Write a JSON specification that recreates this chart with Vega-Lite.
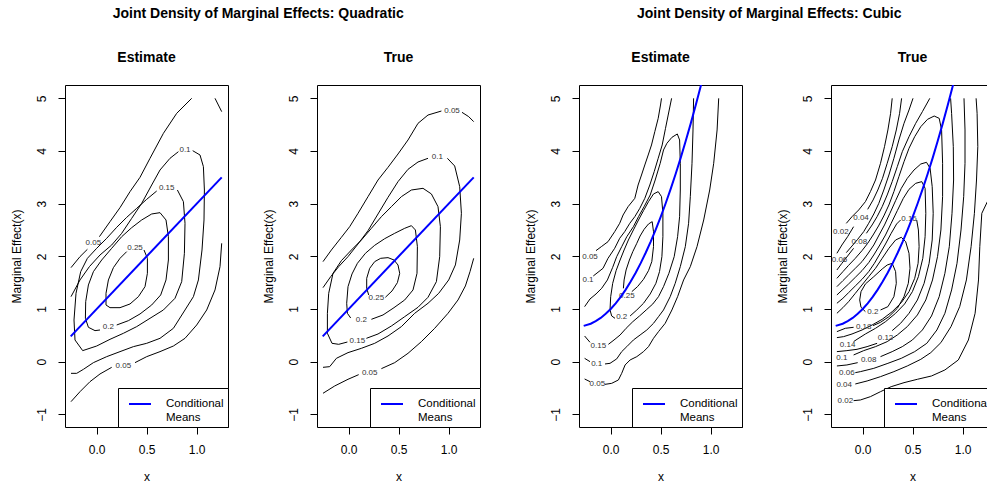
{
"$schema": "https://vega.github.io/schema/vega-lite/v6.json",
"background": "white",
"padding": {"left": 9, "top": 6, "right": 0, "bottom": 0},
"datasets": {
"cl": [
{"p":1,"g":"a1","x":-0.257,"y":1.785},{"p":1,"g":"a1","x":-0.167,"y":1.994},{"p":1,"g":"a1","x":-0.093,"y":2.133},
{"p":1,"g":"a2","x":0.027,"y":2.373},{"p":1,"g":"a2","x":0.133,"y":2.658},{"p":1,"g":"a2","x":0.233,"y":2.924},{"p":1,"g":"a2","x":0.333,"y":3.228},{"p":1,"g":"a2","x":0.433,"y":3.5},{"p":1,"g":"a2","x":0.533,"y":3.861},{"p":1,"g":"a2","x":0.667,"y":4.335},{"p":1,"g":"a2","x":0.8,"y":4.715},{"p":1,"g":"a2","x":0.95,"y":5.0},
{"p":1,"g":"a3","x":1.183,"y":5.0},{"p":1,"g":"a3","x":1.25,"y":4.747},
{"p":1,"g":"b1","x":-0.257,"y":-0.76},{"p":1,"g":"b1","x":-0.167,"y":-0.57},{"p":1,"g":"b1","x":-0.067,"y":-0.38},{"p":1,"g":"b1","x":0.033,"y":-0.234},{"p":1,"g":"b1","x":0.15,"y":-0.108},
{"p":1,"g":"b2","x":0.383,"y":-0.019},{"p":1,"g":"b2","x":0.5,"y":0.095},{"p":1,"g":"b2","x":0.633,"y":0.19},{"p":1,"g":"b2","x":0.767,"y":0.297},{"p":1,"g":"b2","x":0.883,"y":0.443},{"p":1,"g":"b2","x":1.0,"y":0.696},{"p":1,"g":"b2","x":1.1,"y":0.981},{"p":1,"g":"b2","x":1.183,"y":1.361},{"p":1,"g":"b2","x":1.233,"y":1.804},{"p":1,"g":"b2","x":1.25,"y":2.247},
{"p":1,"g":"c1","x":-0.257,"y":1.234},{"p":1,"g":"c1","x":-0.167,"y":1.551},{"p":1,"g":"c1","x":-0.073,"y":1.804},{"p":1,"g":"c1","x":0.033,"y":2.025},{"p":1,"g":"c1","x":0.15,"y":2.215},{"p":1,"g":"c1","x":0.25,"y":2.437},{"p":1,"g":"c1","x":0.35,"y":2.721},{"p":1,"g":"c1","x":0.45,"y":3.006},{"p":1,"g":"c1","x":0.55,"y":3.354},{"p":1,"g":"c1","x":0.633,"y":3.639},{"p":1,"g":"c1","x":0.733,"y":3.861},{"p":1,"g":"c1","x":0.817,"y":3.987},
{"p":1,"g":"c2","x":0.96,"y":4.006},{"p":1,"g":"c2","x":1.033,"y":3.924},{"p":1,"g":"c2","x":1.067,"y":3.703},{"p":1,"g":"c2","x":1.077,"y":3.259},{"p":1,"g":"c2","x":1.073,"y":2.69},{"p":1,"g":"c2","x":1.053,"y":2.12},{"p":1,"g":"c2","x":1.017,"y":1.551},{"p":1,"g":"c2","x":0.967,"y":1.234},{"p":1,"g":"c2","x":0.883,"y":0.981},{"p":1,"g":"c2","x":0.767,"y":0.633},{"p":1,"g":"c2","x":0.633,"y":0.443},{"p":1,"g":"c2","x":0.5,"y":0.348},{"p":1,"g":"c2","x":0.367,"y":0.285},{"p":1,"g":"c2","x":0.233,"y":0.19},{"p":1,"g":"c2","x":0.1,"y":0.095},{"p":1,"g":"c2","x":-0.033,"y":-0.019},{"p":1,"g":"c2","x":-0.133,"y":-0.146},{"p":1,"g":"c2","x":-0.2,"y":-0.222},{"p":1,"g":"c2","x":-0.257,"y":-0.222},
{"p":1,"g":"d","x":0.6,"y":3.24},{"p":1,"g":"d","x":0.5,"y":3.082},{"p":1,"g":"d","x":0.4,"y":2.911},{"p":1,"g":"d","x":0.3,"y":2.74},{"p":1,"g":"d","x":0.2,"y":2.551},{"p":1,"g":"d","x":0.1,"y":2.342},{"p":1,"g":"d","x":0.0,"y":2.152},{"p":1,"g":"d","x":-0.093,"y":1.962},{"p":1,"g":"d","x":-0.16,"y":1.709},{"p":1,"g":"d","x":-0.207,"y":1.297},{"p":1,"g":"d","x":-0.227,"y":0.791},{"p":1,"g":"d","x":-0.217,"y":0.411},{"p":1,"g":"d","x":-0.14,"y":0.209},{"p":1,"g":"d","x":0.0,"y":0.297},{"p":1,"g":"d","x":0.133,"y":0.424},{"p":1,"g":"d","x":0.267,"y":0.538},{"p":1,"g":"d","x":0.4,"y":0.665},{"p":1,"g":"d","x":0.533,"y":0.823},{"p":1,"g":"d","x":0.667,"y":0.981},{"p":1,"g":"d","x":0.783,"y":1.203},{"p":1,"g":"d","x":0.85,"y":1.519},{"p":1,"g":"d","x":0.877,"y":2.057},{"p":1,"g":"d","x":0.883,"y":2.627},{"p":1,"g":"d","x":0.867,"y":3.038},{"p":1,"g":"d","x":0.807,"y":3.259},
{"p":1,"g":"e","x":0.2,"y":0.696},{"p":1,"g":"e","x":0.317,"y":0.778},{"p":1,"g":"e","x":0.433,"y":0.905},{"p":1,"g":"e","x":0.55,"y":1.076},{"p":1,"g":"e","x":0.64,"y":1.266},{"p":1,"g":"e","x":0.693,"y":1.551},{"p":1,"g":"e","x":0.717,"y":1.93},{"p":1,"g":"e","x":0.717,"y":2.373},{"p":1,"g":"e","x":0.693,"y":2.69},{"p":1,"g":"e","x":0.633,"y":2.829},{"p":1,"g":"e","x":0.55,"y":2.804},{"p":1,"g":"e","x":0.45,"y":2.69},{"p":1,"g":"e","x":0.35,"y":2.544},{"p":1,"g":"e","x":0.25,"y":2.373},{"p":1,"g":"e","x":0.15,"y":2.152},{"p":1,"g":"e","x":0.05,"y":1.93},{"p":1,"g":"e","x":-0.033,"y":1.709},{"p":1,"g":"e","x":-0.083,"y":1.456},{"p":1,"g":"e","x":-0.11,"y":1.139},{"p":1,"g":"e","x":-0.113,"y":0.823},{"p":1,"g":"e","x":-0.083,"y":0.652},{"p":1,"g":"e","x":-0.017,"y":0.589},{"p":1,"g":"e","x":0.033,"y":0.601},
{"p":1,"g":"f","x":0.473,"y":2.12},{"p":1,"g":"f","x":0.507,"y":1.962},{"p":1,"g":"f","x":0.507,"y":1.677},{"p":1,"g":"f","x":0.483,"y":1.424},{"p":1,"g":"f","x":0.417,"y":1.234},{"p":1,"g":"f","x":0.333,"y":1.095},{"p":1,"g":"f","x":0.233,"y":1.025},{"p":1,"g":"f","x":0.133,"y":1.025},{"p":1,"g":"f","x":0.093,"y":1.076},{"p":1,"g":"f","x":0.093,"y":1.297},{"p":1,"g":"f","x":0.117,"y":1.551},{"p":1,"g":"f","x":0.167,"y":1.785},{"p":1,"g":"f","x":0.233,"y":1.962},{"p":1,"g":"f","x":0.3,"y":2.089},

{"p":2,"g":"a1","x":-0.257,"y":1.899},{"p":2,"g":"a1","x":-0.173,"y":2.12},{"p":2,"g":"a1","x":-0.073,"y":2.361},{"p":2,"g":"a1","x":0.01,"y":2.563},{"p":2,"g":"a1","x":0.093,"y":2.816},{"p":2,"g":"a1","x":0.193,"y":3.133},{"p":2,"g":"a1","x":0.293,"y":3.449},{"p":2,"g":"a1","x":0.393,"y":3.69},{"p":2,"g":"a1","x":0.493,"y":3.943},{"p":2,"g":"a1","x":0.593,"y":4.209},{"p":2,"g":"a1","x":0.693,"y":4.525},{"p":2,"g":"a1","x":0.793,"y":4.683},{"p":2,"g":"a1","x":0.927,"y":4.759},
{"p":2,"g":"a2","x":1.133,"y":4.734},{"p":2,"g":"a2","x":1.2,"y":4.652},{"p":2,"g":"a2","x":1.25,"y":4.557},
{"p":2,"g":"b1","x":-0.257,"y":-0.601},{"p":2,"g":"b1","x":-0.14,"y":-0.462},{"p":2,"g":"b1","x":-0.007,"y":-0.335},{"p":2,"g":"b1","x":0.1,"y":-0.247},
{"p":2,"g":"b2","x":0.327,"y":-0.133},{"p":2,"g":"b2","x":0.46,"y":-0.019},{"p":2,"g":"b2","x":0.593,"y":0.158},{"p":2,"g":"b2","x":0.727,"y":0.38},{"p":2,"g":"b2","x":0.86,"y":0.633},{"p":2,"g":"b2","x":0.993,"y":0.918},{"p":2,"g":"b2","x":1.093,"y":1.171},{"p":2,"g":"b2","x":1.167,"y":1.437},{"p":2,"g":"b2","x":1.213,"y":1.709},{"p":2,"g":"b2","x":1.25,"y":1.962},
{"p":2,"g":"c1","x":-0.257,"y":1.405},{"p":2,"g":"c1","x":-0.18,"y":1.614},{"p":2,"g":"c1","x":-0.1,"y":1.804},{"p":2,"g":"c1","x":-0.007,"y":1.994},{"p":2,"g":"c1","x":0.093,"y":2.234},{"p":2,"g":"c1","x":0.193,"y":2.487},{"p":2,"g":"c1","x":0.293,"y":2.804},{"p":2,"g":"c1","x":0.393,"y":3.12},{"p":2,"g":"c1","x":0.493,"y":3.418},{"p":2,"g":"c1","x":0.593,"y":3.652},{"p":2,"g":"c1","x":0.693,"y":3.791},{"p":2,"g":"c1","x":0.793,"y":3.861},
{"p":2,"g":"c2","x":0.987,"y":3.861},{"p":2,"g":"c2","x":1.06,"y":3.715},{"p":2,"g":"c2","x":1.11,"y":3.323},{"p":2,"g":"c2","x":1.127,"y":2.817},{"p":2,"g":"c2","x":1.11,"y":2.31},{"p":2,"g":"c2","x":1.067,"y":1.836},{"p":2,"g":"c2","x":1.0,"y":1.551},{"p":2,"g":"c2","x":0.9,"y":1.297},{"p":2,"g":"c2","x":0.793,"y":1.108},{"p":2,"g":"c2","x":0.66,"y":0.918},{"p":2,"g":"c2","x":0.527,"y":0.665},{"p":2,"g":"c2","x":0.393,"y":0.487},{"p":2,"g":"c2","x":0.26,"y":0.348},{"p":2,"g":"c2","x":0.127,"y":0.253},{"p":2,"g":"c2","x":-0.007,"y":0.171},{"p":2,"g":"c2","x":-0.123,"y":0.063},{"p":2,"g":"c2","x":-0.19,"y":-0.095},{"p":2,"g":"c2","x":-0.257,"y":-0.108},
{"p":2,"g":"d","x":0.177,"y":0.443},{"p":2,"g":"d","x":0.293,"y":0.525},{"p":2,"g":"d","x":0.427,"y":0.677},{"p":2,"g":"d","x":0.56,"y":0.854},{"p":2,"g":"d","x":0.693,"y":1.032},{"p":2,"g":"d","x":0.793,"y":1.222},{"p":2,"g":"d","x":0.877,"y":1.519},{"p":2,"g":"d","x":0.91,"y":1.994},{"p":2,"g":"d","x":0.917,"y":2.563},{"p":2,"g":"d","x":0.893,"y":2.943},{"p":2,"g":"d","x":0.827,"y":3.184},{"p":2,"g":"d","x":0.743,"y":3.291},{"p":2,"g":"d","x":0.627,"y":3.259},{"p":2,"g":"d","x":0.527,"y":3.133},{"p":2,"g":"d","x":0.427,"y":2.943},{"p":2,"g":"d","x":0.327,"y":2.753},{"p":2,"g":"d","x":0.227,"y":2.532},{"p":2,"g":"d","x":0.127,"y":2.31},{"p":2,"g":"d","x":0.027,"y":2.12},{"p":2,"g":"d","x":-0.073,"y":1.918},{"p":2,"g":"d","x":-0.157,"y":1.677},{"p":2,"g":"d","x":-0.2,"y":1.297},{"p":2,"g":"d","x":-0.213,"y":0.918},{"p":2,"g":"d","x":-0.213,"y":0.538},{"p":2,"g":"d","x":-0.167,"y":0.348},{"p":2,"g":"d","x":-0.1,"y":0.329},{"p":2,"g":"d","x":-0.013,"y":0.373},
{"p":2,"g":"e","x":0.227,"y":0.804},{"p":2,"g":"e","x":0.343,"y":0.886},{"p":2,"g":"e","x":0.453,"y":1.025},{"p":2,"g":"e","x":0.56,"y":1.171},{"p":2,"g":"e","x":0.643,"y":1.361},{"p":2,"g":"e","x":0.683,"y":1.677},{"p":2,"g":"e","x":0.687,"y":2.184},{"p":2,"g":"e","x":0.667,"y":2.5},{"p":2,"g":"e","x":0.627,"y":2.582},{"p":2,"g":"e","x":0.56,"y":2.532},{"p":2,"g":"e","x":0.46,"y":2.437},{"p":2,"g":"e","x":0.36,"y":2.335},{"p":2,"g":"e","x":0.26,"y":2.209},{"p":2,"g":"e","x":0.167,"y":2.057},{"p":2,"g":"e","x":0.087,"y":1.867},{"p":2,"g":"e","x":0.033,"y":1.665},{"p":2,"g":"e","x":-0.007,"y":1.424},{"p":2,"g":"e","x":-0.02,"y":1.108},{"p":2,"g":"e","x":-0.013,"y":0.918},{"p":2,"g":"e","x":0.02,"y":0.829},
{"p":2,"g":"f","x":0.367,"y":1.222},{"p":2,"g":"f","x":0.433,"y":1.342},{"p":2,"g":"f","x":0.487,"y":1.5},{"p":2,"g":"f","x":0.51,"y":1.677},{"p":2,"g":"f","x":0.493,"y":1.835},{"p":2,"g":"f","x":0.453,"y":1.93},{"p":2,"g":"f","x":0.393,"y":1.975},{"p":2,"g":"f","x":0.32,"y":1.962},{"p":2,"g":"f","x":0.26,"y":1.899},{"p":2,"g":"f","x":0.21,"y":1.772},{"p":2,"g":"f","x":0.18,"y":1.582},{"p":2,"g":"f","x":0.18,"y":1.392},{"p":2,"g":"f","x":0.2,"y":1.266},

{"p":3,"g":"a","x":-0.147,"y":2.108},{"p":3,"g":"a","x":-0.094,"y":2.183},{"p":3,"g":"a","x":-0.027,"y":2.278},{"p":3,"g":"a","x":0.04,"y":2.468},{"p":3,"g":"a","x":0.09,"y":2.627},{"p":3,"g":"a","x":0.124,"y":2.785},{"p":3,"g":"a","x":0.174,"y":2.943},{"p":3,"g":"a","x":0.241,"y":3.101},{"p":3,"g":"a","x":0.274,"y":3.354},{"p":3,"g":"a","x":0.308,"y":3.544},{"p":3,"g":"a","x":0.341,"y":3.734},{"p":3,"g":"a","x":0.375,"y":3.924},{"p":3,"g":"a","x":0.408,"y":4.114},{"p":3,"g":"a","x":0.441,"y":4.367},{"p":3,"g":"a","x":0.475,"y":4.62},{"p":3,"g":"a","x":0.498,"y":4.873},{"p":3,"g":"a","x":0.508,"y":5.0},
{"p":3,"g":"b1","x":1.08,"y":5.0},{"p":3,"g":"b1","x":1.064,"y":4.399},{"p":3,"g":"b1","x":1.03,"y":3.766},{"p":3,"g":"b1","x":0.99,"y":3.259},{"p":3,"g":"b1","x":0.93,"y":2.69},{"p":3,"g":"b1","x":0.863,"y":2.184},{"p":3,"g":"b1","x":0.796,"y":1.804},{"p":3,"g":"b1","x":0.729,"y":1.551},{"p":3,"g":"b1","x":0.669,"y":1.234},{"p":3,"g":"b1","x":0.612,"y":0.981},{"p":3,"g":"b1","x":0.545,"y":0.728},{"p":3,"g":"b1","x":0.478,"y":0.57},{"p":3,"g":"b1","x":0.428,"y":0.443},{"p":3,"g":"b1","x":0.378,"y":0.285},{"p":3,"g":"b1","x":0.328,"y":0.19},{"p":3,"g":"b1","x":0.261,"y":0.095},{"p":3,"g":"b1","x":0.194,"y":0.032},{"p":3,"g":"b1","x":0.144,"y":-0.063},{"p":3,"g":"b1","x":0.11,"y":-0.222},{"p":3,"g":"b1","x":0.077,"y":-0.348},{"p":3,"g":"b1","x":0.01,"y":-0.412},{"p":3,"g":"b1","x":-0.057,"y":-0.431},
{"p":3,"g":"b2","x":-0.207,"y":-0.38},{"p":3,"g":"b2","x":-0.261,"y":-0.329},
{"p":3,"g":"c","x":-0.174,"y":1.627},{"p":3,"g":"c","x":-0.077,"y":1.772},{"p":3,"g":"c","x":-0.027,"y":1.962},{"p":3,"g":"c","x":0.04,"y":2.152},{"p":3,"g":"c","x":0.09,"y":2.342},{"p":3,"g":"c","x":0.14,"y":2.468},{"p":3,"g":"c","x":0.191,"y":2.627},{"p":3,"g":"c","x":0.241,"y":2.753},{"p":3,"g":"c","x":0.291,"y":2.911},{"p":3,"g":"c","x":0.341,"y":3.101},{"p":3,"g":"c","x":0.391,"y":3.354},{"p":3,"g":"c","x":0.435,"y":3.608},{"p":3,"g":"c","x":0.475,"y":3.861},{"p":3,"g":"c","x":0.515,"y":4.114},{"p":3,"g":"c","x":0.548,"y":4.43},{"p":3,"g":"c","x":0.575,"y":4.683},{"p":3,"g":"c","x":0.609,"y":5.0},
{"p":3,"g":"d1","x":0.829,"y":5.0},{"p":3,"g":"d1","x":0.823,"y":4.399},{"p":3,"g":"d1","x":0.813,"y":3.766},{"p":3,"g":"d1","x":0.796,"y":3.133},{"p":3,"g":"d1","x":0.779,"y":2.627},{"p":3,"g":"d1","x":0.746,"y":2.184},{"p":3,"g":"d1","x":0.696,"y":1.804},{"p":3,"g":"d1","x":0.645,"y":1.487},{"p":3,"g":"d1","x":0.595,"y":1.234},{"p":3,"g":"d1","x":0.528,"y":0.981},{"p":3,"g":"d1","x":0.478,"y":0.854},{"p":3,"g":"d1","x":0.428,"y":0.728},{"p":3,"g":"d1","x":0.361,"y":0.601},{"p":3,"g":"d1","x":0.294,"y":0.506},{"p":3,"g":"d1","x":0.227,"y":0.411},{"p":3,"g":"d1","x":0.161,"y":0.285},{"p":3,"g":"d1","x":0.11,"y":0.19},{"p":3,"g":"d1","x":0.06,"y":0.052},{"p":3,"g":"d1","x":-0.007,"y":-0.032},{"p":3,"g":"d1","x":-0.057,"y":-0.044},
{"p":3,"g":"d2","x":-0.207,"y":0.0},{"p":3,"g":"d2","x":-0.261,"y":0.063},
{"p":3,"g":"e1","x":-0.261,"y":1.044},{"p":3,"g":"e1","x":-0.207,"y":1.19},{"p":3,"g":"e1","x":-0.147,"y":1.285},{"p":3,"g":"e1","x":-0.09,"y":1.393},{"p":3,"g":"e1","x":-0.033,"y":1.551},{"p":3,"g":"e1","x":0.02,"y":1.791},{"p":3,"g":"e1","x":0.06,"y":1.994},{"p":3,"g":"e1","x":0.11,"y":2.183},{"p":3,"g":"e1","x":0.161,"y":2.373},{"p":3,"g":"e1","x":0.227,"y":2.563},{"p":3,"g":"e1","x":0.278,"y":2.753},{"p":3,"g":"e1","x":0.334,"y":2.943},{"p":3,"g":"e1","x":0.395,"y":3.164},{"p":3,"g":"e1","x":0.445,"y":3.449},{"p":3,"g":"e1","x":0.495,"y":3.766},{"p":3,"g":"e1","x":0.528,"y":4.019},{"p":3,"g":"e1","x":0.562,"y":4.146},{"p":3,"g":"e1","x":0.612,"y":4.259},{"p":3,"g":"e1","x":0.666,"y":4.323},{"p":3,"g":"e1","x":0.689,"y":4.209},{"p":3,"g":"e1","x":0.696,"y":3.766},{"p":3,"g":"e1","x":0.696,"y":3.259},{"p":3,"g":"e1","x":0.689,"y":2.753},{"p":3,"g":"e1","x":0.669,"y":2.373},{"p":3,"g":"e1","x":0.635,"y":1.994},{"p":3,"g":"e1","x":0.582,"y":1.677},{"p":3,"g":"e1","x":0.528,"y":1.424},{"p":3,"g":"e1","x":0.478,"y":1.234},{"p":3,"g":"e1","x":0.421,"y":1.095},{"p":3,"g":"e1","x":0.355,"y":0.981},{"p":3,"g":"e1","x":0.288,"y":0.867},{"p":3,"g":"e1","x":0.221,"y":0.759},{"p":3,"g":"e1","x":0.154,"y":0.633},{"p":3,"g":"e1","x":0.094,"y":0.506},{"p":3,"g":"e1","x":0.033,"y":0.411},{"p":3,"g":"e1","x":-0.023,"y":0.329},
{"p":3,"g":"e2","x":-0.207,"y":0.367},{"p":3,"g":"e2","x":-0.261,"y":0.487},
{"p":3,"g":"f","x":0.194,"y":0.867},{"p":3,"g":"f","x":0.261,"y":0.981},{"p":3,"g":"f","x":0.328,"y":1.108},{"p":3,"g":"f","x":0.395,"y":1.285},{"p":3,"g":"f","x":0.452,"y":1.487},{"p":3,"g":"f","x":0.488,"y":1.709},{"p":3,"g":"f","x":0.512,"y":1.994},{"p":3,"g":"f","x":0.522,"y":2.373},{"p":3,"g":"f","x":0.522,"y":2.816},{"p":3,"g":"f","x":0.508,"y":3.133},{"p":3,"g":"f","x":0.475,"y":3.228},{"p":3,"g":"f","x":0.428,"y":3.184},{"p":3,"g":"f","x":0.378,"y":3.038},{"p":3,"g":"f","x":0.328,"y":2.867},{"p":3,"g":"f","x":0.278,"y":2.69},{"p":3,"g":"f","x":0.227,"y":2.5},{"p":3,"g":"f","x":0.177,"y":2.31},{"p":3,"g":"f","x":0.134,"y":2.12},{"p":3,"g":"f","x":0.094,"y":1.93},{"p":3,"g":"f","x":0.054,"y":1.728},{"p":3,"g":"f","x":0.02,"y":1.487},{"p":3,"g":"f","x":0.0,"y":1.234},{"p":3,"g":"f","x":-0.007,"y":0.981},{"p":3,"g":"f","x":0.01,"y":0.867},{"p":3,"g":"f","x":0.043,"y":0.823},
{"p":3,"g":"h","x":0.211,"y":1.329},{"p":3,"g":"h","x":0.268,"y":1.424},{"p":3,"g":"h","x":0.328,"y":1.563},{"p":3,"g":"h","x":0.378,"y":1.728},{"p":3,"g":"h","x":0.411,"y":1.899},{"p":3,"g":"h","x":0.428,"y":2.184},{"p":3,"g":"h","x":0.428,"y":2.468},{"p":3,"g":"h","x":0.415,"y":2.658},{"p":3,"g":"h","x":0.378,"y":2.614},{"p":3,"g":"h","x":0.334,"y":2.513},{"p":3,"g":"h","x":0.294,"y":2.386},{"p":3,"g":"h","x":0.261,"y":2.247},{"p":3,"g":"h","x":0.221,"y":2.089},{"p":3,"g":"h","x":0.187,"y":1.93},{"p":3,"g":"h","x":0.154,"y":1.741},{"p":3,"g":"h","x":0.134,"y":1.551},{"p":3,"g":"h","x":0.127,"y":1.392},

{"p":4,"g":"a","x":-0.164,"y":2.626},{"p":4,"g":"a","x":-0.107,"y":2.753},{"p":4,"g":"a","x":-0.04,"y":2.88},{"p":4,"g":"a","x":0.027,"y":3.038},{"p":4,"g":"a","x":0.077,"y":3.228},{"p":4,"g":"a","x":0.128,"y":3.449},{"p":4,"g":"a","x":0.178,"y":3.766},{"p":4,"g":"a","x":0.218,"y":4.082},{"p":4,"g":"a","x":0.252,"y":4.399},{"p":4,"g":"a","x":0.279,"y":4.715},{"p":4,"g":"a","x":0.295,"y":5.0},
{"p":4,"g":"b","x":1.25,"y":3.05},{"p":4,"g":"b","x":1.191,"y":2.816},{"p":4,"g":"b","x":1.171,"y":2.184},{"p":4,"g":"b","x":1.158,"y":1.551},{"p":4,"g":"b","x":1.124,"y":0.918},{"p":4,"g":"b","x":1.057,"y":0.411},{"p":4,"g":"b","x":0.956,"y":0.032},{"p":4,"g":"b","x":0.822,"y":-0.158},{"p":4,"g":"b","x":0.688,"y":-0.272},{"p":4,"g":"b","x":0.547,"y":-0.335},{"p":4,"g":"b","x":0.413,"y":-0.399},{"p":4,"g":"b","x":0.285,"y":-0.475},{"p":4,"g":"b","x":0.178,"y":-0.57},{"p":4,"g":"b","x":0.077,"y":-0.665},{"p":4,"g":"b","x":-0.023,"y":-0.728},{"p":4,"g":"b","x":-0.091,"y":-0.741},
{"p":4,"g":"c1","x":-0.258,"y":2.057},{"p":4,"g":"c1","x":-0.208,"y":2.215},{"p":4,"g":"c1","x":-0.151,"y":2.373},{"p":4,"g":"c1","x":-0.091,"y":2.563},
{"p":4,"g":"c2","x":0.05,"y":2.892},{"p":4,"g":"c2","x":0.104,"y":3.07},{"p":4,"g":"c2","x":0.151,"y":3.259},{"p":4,"g":"c2","x":0.198,"y":3.481},{"p":4,"g":"c2","x":0.245,"y":3.766},{"p":4,"g":"c2","x":0.295,"y":4.082},{"p":4,"g":"c2","x":0.336,"y":4.399},{"p":4,"g":"c2","x":0.369,"y":4.715},{"p":4,"g":"c2","x":0.389,"y":5.0},
{"p":4,"g":"d","x":1.134,"y":5.0},{"p":4,"g":"d","x":1.144,"y":4.715},{"p":4,"g":"d","x":1.151,"y":4.082},{"p":4,"g":"d","x":1.138,"y":3.449},{"p":4,"g":"d","x":1.117,"y":2.816},{"p":4,"g":"d","x":1.084,"y":2.184},{"p":4,"g":"d","x":1.037,"y":1.551},{"p":4,"g":"d","x":0.97,"y":1.044},{"p":4,"g":"d","x":0.883,"y":0.665},{"p":4,"g":"d","x":0.782,"y":0.361},{"p":4,"g":"d","x":0.681,"y":0.171},{"p":4,"g":"d","x":0.581,"y":0.044},{"p":4,"g":"d","x":0.446,"y":-0.082},{"p":4,"g":"d","x":0.312,"y":-0.19},{"p":4,"g":"d","x":0.178,"y":-0.285},{"p":4,"g":"d","x":0.044,"y":-0.367},{"p":4,"g":"d","x":-0.074,"y":-0.424},
{"p":4,"g":"e","x":-0.164,"y":2.07},{"p":4,"g":"e","x":-0.107,"y":2.196},{"p":4,"g":"e","x":-0.05,"y":2.323},{"p":4,"g":"e","x":0.01,"y":2.468},{"p":4,"g":"e","x":0.06,"y":2.627},{"p":4,"g":"e","x":0.111,"y":2.804},{"p":4,"g":"e","x":0.161,"y":3.006},{"p":4,"g":"e","x":0.211,"y":3.259},{"p":4,"g":"e","x":0.262,"y":3.544},{"p":4,"g":"e","x":0.312,"y":3.861},{"p":4,"g":"e","x":0.362,"y":4.209},{"p":4,"g":"e","x":0.413,"y":4.525},{"p":4,"g":"e","x":0.463,"y":4.778},{"p":4,"g":"e","x":0.503,"y":5.0},
{"p":4,"g":"f","x":1.013,"y":5.0},{"p":4,"g":"f","x":1.023,"y":4.399},{"p":4,"g":"f","x":1.023,"y":3.766},{"p":4,"g":"f","x":1.01,"y":3.133},{"p":4,"g":"f","x":0.983,"y":2.5},{"p":4,"g":"f","x":0.943,"y":1.867},{"p":4,"g":"f","x":0.889,"y":1.361},{"p":4,"g":"f","x":0.822,"y":0.918},{"p":4,"g":"f","x":0.742,"y":0.601},{"p":4,"g":"f","x":0.641,"y":0.348},{"p":4,"g":"f","x":0.52,"y":0.19},{"p":4,"g":"f","x":0.386,"y":0.063},{"p":4,"g":"f","x":0.252,"y":-0.032},{"p":4,"g":"f","x":0.111,"y":-0.127},{"p":4,"g":"f","x":-0.023,"y":-0.19},{"p":4,"g":"f","x":-0.074,"y":-0.209},
{"p":4,"g":"g1","x":-0.258,"y":1.74},{"p":4,"g":"g1","x":-0.208,"y":1.867},{"p":4,"g":"g1","x":-0.151,"y":2.006},{"p":4,"g":"g1","x":-0.091,"y":2.152},
{"p":4,"g":"g2","x":0.037,"y":2.437},{"p":4,"g":"g2","x":0.094,"y":2.595},{"p":4,"g":"g2","x":0.144,"y":2.753},{"p":4,"g":"g2","x":0.195,"y":2.943},{"p":4,"g":"g2","x":0.245,"y":3.165},{"p":4,"g":"g2","x":0.295,"y":3.418},{"p":4,"g":"g2","x":0.346,"y":3.703},{"p":4,"g":"g2","x":0.396,"y":3.987},{"p":4,"g":"g2","x":0.463,"y":4.272},{"p":4,"g":"g2","x":0.53,"y":4.525},{"p":4,"g":"g2","x":0.597,"y":4.747},{"p":4,"g":"g2","x":0.671,"y":5.0},
{"p":4,"g":"h1","x":0.879,"y":5.0},{"p":4,"g":"h1","x":0.889,"y":4.715},{"p":4,"g":"h1","x":0.906,"y":4.082},{"p":4,"g":"h1","x":0.909,"y":3.449},{"p":4,"g":"h1","x":0.893,"y":2.816},{"p":4,"g":"h1","x":0.866,"y":2.184},{"p":4,"g":"h1","x":0.822,"y":1.677},{"p":4,"g":"h1","x":0.765,"y":1.234},{"p":4,"g":"h1","x":0.688,"y":0.867},{"p":4,"g":"h1","x":0.597,"y":0.601},{"p":4,"g":"h1","x":0.497,"y":0.411},{"p":4,"g":"h1","x":0.396,"y":0.285},{"p":4,"g":"h1","x":0.295,"y":0.19},{"p":4,"g":"h1","x":0.178,"y":0.095},
{"p":4,"g":"h2","x":-0.05,"y":-0.019},{"p":4,"g":"h2","x":-0.158,"y":-0.063},{"p":4,"g":"h2","x":-0.258,"y":-0.082},
{"p":4,"g":"i","x":-0.258,"y":1.582},{"p":4,"g":"i","x":-0.198,"y":1.709},{"p":4,"g":"i","x":-0.141,"y":1.829},{"p":4,"g":"i","x":-0.074,"y":1.962},{"p":4,"g":"i","x":-0.007,"y":2.108},{"p":4,"g":"i","x":0.05,"y":2.247},{"p":4,"g":"i","x":0.104,"y":2.405},{"p":4,"g":"i","x":0.158,"y":2.576},{"p":4,"g":"i","x":0.211,"y":2.766},{"p":4,"g":"i","x":0.262,"y":2.975},{"p":4,"g":"i","x":0.312,"y":3.228},{"p":4,"g":"i","x":0.362,"y":3.513},{"p":4,"g":"i","x":0.413,"y":3.797},{"p":4,"g":"i","x":0.463,"y":4.051},{"p":4,"g":"i","x":0.52,"y":4.272},{"p":4,"g":"i","x":0.581,"y":4.462},{"p":4,"g":"i","x":0.648,"y":4.601},{"p":4,"g":"i","x":0.715,"y":4.664},{"p":4,"g":"i","x":0.765,"y":4.62},{"p":4,"g":"i","x":0.789,"y":4.399},{"p":4,"g":"i","x":0.799,"y":3.766},{"p":4,"g":"i","x":0.799,"y":3.133},{"p":4,"g":"i","x":0.782,"y":2.5},{"p":4,"g":"i","x":0.748,"y":1.994},{"p":4,"g":"i","x":0.698,"y":1.551},{"p":4,"g":"i","x":0.631,"y":1.171},{"p":4,"g":"i","x":0.547,"y":0.886},{"p":4,"g":"i","x":0.446,"y":0.665},{"p":4,"g":"i","x":0.346,"y":0.506},{"p":4,"g":"i","x":0.245,"y":0.38},{"p":4,"g":"i","x":0.128,"y":0.285},{"p":4,"g":"i","x":0.01,"y":0.209},{"p":4,"g":"i","x":-0.091,"y":0.127},
{"p":4,"g":"j1","x":-0.258,"y":1.424},{"p":4,"g":"j1","x":-0.198,"y":1.538},{"p":4,"g":"j1","x":-0.141,"y":1.646},{"p":4,"g":"j1","x":-0.074,"y":1.772},{"p":4,"g":"j1","x":-0.007,"y":1.899},{"p":4,"g":"j1","x":0.05,"y":2.044},{"p":4,"g":"j1","x":0.111,"y":2.215},{"p":4,"g":"j1","x":0.164,"y":2.405},{"p":4,"g":"j1","x":0.218,"y":2.595},{"p":4,"g":"j1","x":0.272,"y":2.816},{"p":4,"g":"j1","x":0.329,"y":3.057},{"p":4,"g":"j1","x":0.386,"y":3.291},{"p":4,"g":"j1","x":0.446,"y":3.481},{"p":4,"g":"j1","x":0.513,"y":3.639},{"p":4,"g":"j1","x":0.581,"y":3.753},{"p":4,"g":"j1","x":0.638,"y":3.785},{"p":4,"g":"j1","x":0.674,"y":3.671},{"p":4,"g":"j1","x":0.695,"y":3.323},{"p":4,"g":"j1","x":0.705,"y":2.816},{"p":4,"g":"j1","x":0.695,"y":2.31},{"p":4,"g":"j1","x":0.664,"y":1.867},{"p":4,"g":"j1","x":0.614,"y":1.487},{"p":4,"g":"j1","x":0.547,"y":1.171},{"p":4,"g":"j1","x":0.463,"y":0.918},{"p":4,"g":"j1","x":0.379,"y":0.728},{"p":4,"g":"j1","x":0.295,"y":0.589},
{"p":4,"g":"j2","x":0.144,"y":0.348},{"p":4,"g":"j2","x":0.044,"y":0.285},{"p":4,"g":"j2","x":-0.057,"y":0.234},{"p":4,"g":"j2","x":-0.158,"y":0.209},{"p":4,"g":"j2","x":-0.258,"y":0.19},
{"p":4,"g":"k","x":-0.258,"y":1.266},{"p":4,"g":"k","x":-0.198,"y":1.373},{"p":4,"g":"k","x":-0.141,"y":1.475},{"p":4,"g":"k","x":-0.074,"y":1.601},{"p":4,"g":"k","x":-0.007,"y":1.728},{"p":4,"g":"k","x":0.06,"y":1.88},{"p":4,"g":"k","x":0.117,"y":2.044},{"p":4,"g":"k","x":0.171,"y":2.215},{"p":4,"g":"k","x":0.228,"y":2.405},{"p":4,"g":"k","x":0.285,"y":2.627},{"p":4,"g":"k","x":0.346,"y":2.867},{"p":4,"g":"k","x":0.406,"y":3.101},{"p":4,"g":"k","x":0.463,"y":3.272},{"p":4,"g":"k","x":0.53,"y":3.386},{"p":4,"g":"k","x":0.591,"y":3.418},{"p":4,"g":"k","x":0.624,"y":3.291},{"p":4,"g":"k","x":0.631,"y":2.816},{"p":4,"g":"k","x":0.624,"y":2.373},{"p":4,"g":"k","x":0.601,"y":1.962},{"p":4,"g":"k","x":0.557,"y":1.614},{"p":4,"g":"k","x":0.497,"y":1.329},{"p":4,"g":"k","x":0.419,"y":1.095},{"p":4,"g":"k","x":0.329,"y":0.918},{"p":4,"g":"k","x":0.228,"y":0.759},{"p":4,"g":"k","x":0.128,"y":0.633},{"p":4,"g":"k","x":0.027,"y":0.525},{"p":4,"g":"k","x":-0.057,"y":0.424},{"p":4,"g":"k","x":-0.091,"y":0.38},
{"p":4,"g":"l1","x":-0.258,"y":1.108},{"p":4,"g":"l1","x":-0.198,"y":1.203},{"p":4,"g":"l1","x":-0.141,"y":1.31},{"p":4,"g":"l1","x":-0.074,"y":1.437},{"p":4,"g":"l1","x":-0.007,"y":1.563},{"p":4,"g":"l1","x":0.06,"y":1.709},{"p":4,"g":"l1","x":0.117,"y":1.867},{"p":4,"g":"l1","x":0.171,"y":2.044},{"p":4,"g":"l1","x":0.228,"y":2.234},{"p":4,"g":"l1","x":0.285,"y":2.437},{"p":4,"g":"l1","x":0.339,"y":2.614},{"p":4,"g":"l1","x":0.379,"y":2.69},
{"p":4,"g":"l2","x":0.54,"y":2.69},{"p":4,"g":"l2","x":0.557,"y":2.5},{"p":4,"g":"l2","x":0.564,"y":2.184},{"p":4,"g":"l2","x":0.554,"y":1.867},{"p":4,"g":"l2","x":0.52,"y":1.582},{"p":4,"g":"l2","x":0.463,"y":1.329},{"p":4,"g":"l2","x":0.386,"y":1.12},{"p":4,"g":"l2","x":0.295,"y":0.949},{"p":4,"g":"l2","x":0.195,"y":0.804},{"p":4,"g":"l2","x":0.094,"y":0.696},{"p":4,"g":"l2","x":-0.007,"y":0.601},{"p":4,"g":"l2","x":-0.107,"y":0.525},{"p":4,"g":"l2","x":-0.191,"y":0.475},{"p":4,"g":"l2","x":-0.258,"y":0.456},
{"p":4,"g":"m1","x":-0.258,"y":0.918},{"p":4,"g":"m1","x":-0.198,"y":1.025},{"p":4,"g":"m1","x":-0.141,"y":1.139},{"p":4,"g":"m1","x":-0.074,"y":1.297},{"p":4,"g":"m1","x":-0.007,"y":1.456},{"p":4,"g":"m1","x":0.06,"y":1.614},{"p":4,"g":"m1","x":0.128,"y":1.772},{"p":4,"g":"m1","x":0.195,"y":1.962},{"p":4,"g":"m1","x":0.262,"y":2.152},{"p":4,"g":"m1","x":0.329,"y":2.31},{"p":4,"g":"m1","x":0.386,"y":2.361},{"p":4,"g":"m1","x":0.43,"y":2.277},{"p":4,"g":"m1","x":0.463,"y":2.057},{"p":4,"g":"m1","x":0.473,"y":1.772},{"p":4,"g":"m1","x":0.456,"y":1.487},{"p":4,"g":"m1","x":0.413,"y":1.234},{"p":4,"g":"m1","x":0.346,"y":1.012},{"p":4,"g":"m1","x":0.262,"y":0.854},{"p":4,"g":"m1","x":0.178,"y":0.747},{"p":4,"g":"m1","x":0.104,"y":0.684},
{"p":4,"g":"m2","x":-0.091,"y":0.652},{"p":4,"g":"m2","x":-0.174,"y":0.633},{"p":4,"g":"m2","x":-0.258,"y":0.57},
{"p":4,"g":"n","x":0.178,"y":0.981},{"p":4,"g":"n","x":0.252,"y":1.044},{"p":4,"g":"n","x":0.312,"y":1.234},{"p":4,"g":"n","x":0.336,"y":1.487},{"p":4,"g":"n","x":0.329,"y":1.709},{"p":4,"g":"n","x":0.295,"y":1.867},{"p":4,"g":"n","x":0.245,"y":1.835},{"p":4,"g":"n","x":0.195,"y":1.76},{"p":4,"g":"n","x":0.111,"y":1.614},{"p":4,"g":"n","x":0.027,"y":1.475},{"p":4,"g":"n","x":-0.017,"y":1.329},{"p":4,"g":"n","x":-0.03,"y":1.171},{"p":4,"g":"n","x":-0.017,"y":1.032},{"p":4,"g":"n","x":0.027,"y":0.949}
],
"lb": [
{"p":1,"x":-0.033,"y":2.247,"t":"0.05"},{"p":1,"x":0.267,"y":-0.082,"t":"0.05"},{"p":1,"x":0.883,"y":4.019,"t":"0.1"},{"p":1,"x":0.7,"y":3.291,"t":"0.15"},{"p":1,"x":0.117,"y":0.652,"t":"0.2"},{"p":1,"x":0.383,"y":2.152,"t":"0.25"},
{"p":2,"x":1.033,"y":4.766,"t":"0.05"},{"p":2,"x":0.21,"y":-0.222,"t":"0.05"},{"p":2,"x":0.887,"y":3.88,"t":"0.1"},{"p":2,"x":0.087,"y":0.399,"t":"0.15"},{"p":2,"x":0.127,"y":0.791,"t":"0.2"},{"p":2,"x":0.277,"y":1.203,"t":"0.25"},
{"p":3,"x":-0.207,"y":1.981,"t":"0.05"},{"p":3,"x":-0.134,"y":-0.424,"t":"0.05"},{"p":3,"x":-0.227,"y":1.551,"t":"0.1"},{"p":3,"x":-0.14,"y":-0.044,"t":"0.1"},{"p":3,"x":-0.124,"y":0.304,"t":"0.15"},{"p":3,"x":0.11,"y":0.842,"t":"0.2"},{"p":3,"x":0.161,"y":1.247,"t":"0.25"},
{"p":4,"x":-0.218,"y":2.468,"t":"0.02"},{"p":4,"x":-0.174,"y":-0.741,"t":"0.02"},{"p":4,"x":-0.017,"y":2.721,"t":"0.04"},{"p":4,"x":-0.185,"y":-0.443,"t":"0.04"},{"p":4,"x":-0.232,"y":1.93,"t":"0.06"},{"p":4,"x":-0.158,"y":-0.222,"t":"0.06"},{"p":4,"x":-0.034,"y":2.278,"t":"0.08"},{"p":4,"x":0.06,"y":0.032,"t":"0.08"},{"p":4,"x":-0.208,"y":0.063,"t":"0.1"},{"p":4,"x":0.228,"y":0.443,"t":"0.12"},{"p":4,"x":-0.151,"y":0.316,"t":"0.14"},{"p":4,"x":0.463,"y":2.703,"t":"0.16"},{"p":4,"x":0.01,"y":0.665,"t":"0.18"},{"p":4,"x":0.101,"y":0.949,"t":"0.2"}
],
"mn": [
{"p":1,"s":"Conditional Means","x":-0.26,"y":0.48},{"p":1,"s":"Conditional Means","x":1.25,"y":3.5},
{"p":2,"s":"Conditional Means","x":-0.26,"y":0.48},{"p":2,"s":"Conditional Means","x":1.25,"y":3.5},
{"p":3,"s":"Conditional Means","x":-0.27,"y":0.679},{"p":3,"s":"Conditional Means","x":-0.2,"y":0.72},{"p":3,"s":"Conditional Means","x":-0.15,"y":0.768},{"p":3,"s":"Conditional Means","x":-0.1,"y":0.83},{"p":3,"s":"Conditional Means","x":-0.05,"y":0.908},{"p":3,"s":"Conditional Means","x":0.0,"y":1.0},{"p":3,"s":"Conditional Means","x":0.05,"y":1.108},{"p":3,"s":"Conditional Means","x":0.1,"y":1.23},{"p":3,"s":"Conditional Means","x":0.15,"y":1.368},{"p":3,"s":"Conditional Means","x":0.2,"y":1.52},{"p":3,"s":"Conditional Means","x":0.25,"y":1.688},{"p":3,"s":"Conditional Means","x":0.3,"y":1.87},{"p":3,"s":"Conditional Means","x":0.35,"y":2.068},{"p":3,"s":"Conditional Means","x":0.4,"y":2.28},{"p":3,"s":"Conditional Means","x":0.45,"y":2.508},{"p":3,"s":"Conditional Means","x":0.5,"y":2.75},{"p":3,"s":"Conditional Means","x":0.55,"y":3.008},{"p":3,"s":"Conditional Means","x":0.6,"y":3.28},{"p":3,"s":"Conditional Means","x":0.65,"y":3.568},{"p":3,"s":"Conditional Means","x":0.7,"y":3.87},{"p":3,"s":"Conditional Means","x":0.75,"y":4.188},{"p":3,"s":"Conditional Means","x":0.8,"y":4.52},{"p":3,"s":"Conditional Means","x":0.85,"y":4.868},{"p":3,"s":"Conditional Means","x":0.9,"y":5.23},{"p":3,"s":"Conditional Means","x":0.95,"y":5.608},
{"p":4,"s":"Conditional Means","x":-0.27,"y":0.679},{"p":4,"s":"Conditional Means","x":-0.2,"y":0.72},{"p":4,"s":"Conditional Means","x":-0.15,"y":0.768},{"p":4,"s":"Conditional Means","x":-0.1,"y":0.83},{"p":4,"s":"Conditional Means","x":-0.05,"y":0.908},{"p":4,"s":"Conditional Means","x":0.0,"y":1.0},{"p":4,"s":"Conditional Means","x":0.05,"y":1.108},{"p":4,"s":"Conditional Means","x":0.1,"y":1.23},{"p":4,"s":"Conditional Means","x":0.15,"y":1.368},{"p":4,"s":"Conditional Means","x":0.2,"y":1.52},{"p":4,"s":"Conditional Means","x":0.25,"y":1.688},{"p":4,"s":"Conditional Means","x":0.3,"y":1.87},{"p":4,"s":"Conditional Means","x":0.35,"y":2.068},{"p":4,"s":"Conditional Means","x":0.4,"y":2.28},{"p":4,"s":"Conditional Means","x":0.45,"y":2.508},{"p":4,"s":"Conditional Means","x":0.5,"y":2.75},{"p":4,"s":"Conditional Means","x":0.55,"y":3.008},{"p":4,"s":"Conditional Means","x":0.6,"y":3.28},{"p":4,"s":"Conditional Means","x":0.65,"y":3.568},{"p":4,"s":"Conditional Means","x":0.7,"y":3.87},{"p":4,"s":"Conditional Means","x":0.75,"y":4.188},{"p":4,"s":"Conditional Means","x":0.8,"y":4.52},{"p":4,"s":"Conditional Means","x":0.85,"y":4.868},{"p":4,"s":"Conditional Means","x":0.9,"y":5.23},{"p":4,"s":"Conditional Means","x":0.95,"y":5.608}
]
},
"config": {
"font": "Liberation Sans",
"view": {"stroke": "black", "strokeWidth": 1},
"axis": {"domain": false, "grid": false, "ticks": true, "tickSize": 7, "tickColor": "black", "tickWidth": 1, "labelColor": "black", "labelFontSize": 12, "labelFont": "Liberation Sans", "titleFont": "Liberation Sans", "titleFontSize": 12, "titleFontWeight": "normal", "titleColor": "black", "labelFlush": false, "labelOverlap": false},
"axisX": {"labelPadding": 10, "titlePadding": 16},
"axisY": {"labelAngle": 270, "labelAlign": "center", "labelBaseline": "alphabetic", "labelPadding": 13, "titlePadding": 12},
"title": {"fontSize": 14, "fontWeight": "bold", "font": "Liberation Sans", "color": "black", "anchor": "middle", "baseline": "alphabetic", "offset": 20},
"legend": {"orient": "bottom-right", "offset": 0, "padding": 4, "strokeColor": "black", "fillColor": "white", "cornerRadius": 0, "symbolType": "stroke", "symbolStrokeWidth": 2, "symbolSize": 484, "symbolOffset": 6, "labelOffset": 14, "labelFontSize": 11.5, "labelFont": "Liberation Sans", "labelColor": "black", "labelLimit": 200}
},
"resolve": {"scale": {"color": "independent"}, "legend": {"color": "independent"}},
"spacing": 42,
"hconcat": [
{
"title": {"text": "Joint Density of Marginal Effects: Quadratic", "offset": 30, "dx": 13},
"spacing": 32,
"resolve": {"scale": {"color": "independent"}, "legend": {"color": "independent"}},
"hconcat": [
{"width": 163, "height": 342, "title": "Estimate",
"encoding": {"x": {"field": "x", "type": "quantitative", "scale": {"domain": [-0.317, 1.313], "nice": false, "zero": false}, "axis": {"title": "x", "values": [0, 0.5, 1], "format": ".1f"}}, "y": {"field": "y", "type": "quantitative", "scale": {"domain": [-1.241, 5.253], "nice": false, "zero": false}, "axis": {"title": "Marginal Effect(x)", "values": [-1, 0, 1, 2, 3, 4, 5]}}},
"layer": [
{"data": {"name": "cl"}, "transform": [{"filter": "datum.p == 1"}], "mark": {"type": "line", "color": "black", "strokeWidth": 1, "clip": true}, "encoding": {"detail": {"field": "g"}, "order": {"value": null}}},
{"data": {"name": "lb"}, "transform": [{"filter": "datum.p == 1"}], "mark": {"type": "text", "fontSize": 8, "color": "#333333", "clip": true}, "encoding": {"text": {"field": "t"}}},
{"data": {"name": "mn"}, "transform": [{"filter": "datum.p == 1"}], "mark": {"type": "line", "strokeWidth": 2, "clip": true}, "encoding": {"order": {"value": null}, "color": {"field": "s", "type": "nominal", "scale": {"range": ["#0000ff"]}, "legend": {"title": null, "labelExpr": "['Conditional', 'Means']"}}}}
]},
{"width": 163, "height": 342, "title": "True",
"encoding": {"x": {"field": "x", "type": "quantitative", "scale": {"domain": [-0.317, 1.313], "nice": false, "zero": false}, "axis": {"title": "x", "values": [0, 0.5, 1], "format": ".1f"}}, "y": {"field": "y", "type": "quantitative", "scale": {"domain": [-1.241, 5.253], "nice": false, "zero": false}, "axis": {"title": "Marginal Effect(x)", "values": [-1, 0, 1, 2, 3, 4, 5]}}},
"layer": [
{"data": {"name": "cl"}, "transform": [{"filter": "datum.p == 2"}], "mark": {"type": "line", "color": "black", "strokeWidth": 1, "clip": true}, "encoding": {"detail": {"field": "g"}, "order": {"value": null}}},
{"data": {"name": "lb"}, "transform": [{"filter": "datum.p == 2"}], "mark": {"type": "text", "fontSize": 8, "color": "#333333", "clip": true}, "encoding": {"text": {"field": "t"}}},
{"data": {"name": "mn"}, "transform": [{"filter": "datum.p == 2"}], "mark": {"type": "line", "strokeWidth": 2, "clip": true}, "encoding": {"order": {"value": null}, "color": {"field": "s", "type": "nominal", "scale": {"range": ["#0000ff"]}, "legend": {"title": null, "labelExpr": "['Conditional', 'Means']"}}}}
]}
]
},
{
"title": {"text": "Joint Density of Marginal Effects: Cubic", "offset": 30, "dx": 10},
"spacing": 32,
"resolve": {"scale": {"color": "independent"}, "legend": {"color": "independent"}},
"hconcat": [
{"width": 163, "height": 342, "title": "Estimate",
"encoding": {"x": {"field": "x", "type": "quantitative", "scale": {"domain": [-0.317, 1.313], "nice": false, "zero": false}, "axis": {"title": "x", "values": [0, 0.5, 1], "format": ".1f"}}, "y": {"field": "y", "type": "quantitative", "scale": {"domain": [-1.241, 5.253], "nice": false, "zero": false}, "axis": {"title": "Marginal Effect(x)", "values": [-1, 0, 1, 2, 3, 4, 5]}}},
"layer": [
{"data": {"name": "cl"}, "transform": [{"filter": "datum.p == 3"}], "mark": {"type": "line", "color": "black", "strokeWidth": 1, "clip": true}, "encoding": {"detail": {"field": "g"}, "order": {"value": null}}},
{"data": {"name": "lb"}, "transform": [{"filter": "datum.p == 3"}], "mark": {"type": "text", "fontSize": 8, "color": "#333333", "clip": true}, "encoding": {"text": {"field": "t"}}},
{"data": {"name": "mn"}, "transform": [{"filter": "datum.p == 3"}], "mark": {"type": "line", "strokeWidth": 2, "clip": true}, "encoding": {"order": {"value": null}, "color": {"field": "s", "type": "nominal", "scale": {"range": ["#0000ff"]}, "legend": {"title": null, "labelExpr": "['Conditional', 'Means']"}}}}
]},
{"width": 163, "height": 342, "title": "True",
"encoding": {"x": {"field": "x", "type": "quantitative", "scale": {"domain": [-0.317, 1.313], "nice": false, "zero": false}, "axis": {"title": "x", "values": [0, 0.5, 1], "format": ".1f"}}, "y": {"field": "y", "type": "quantitative", "scale": {"domain": [-1.241, 5.253], "nice": false, "zero": false}, "axis": {"title": "Marginal Effect(x)", "values": [-1, 0, 1, 2, 3, 4, 5]}}},
"layer": [
{"data": {"name": "cl"}, "transform": [{"filter": "datum.p == 4"}], "mark": {"type": "line", "color": "black", "strokeWidth": 1, "clip": true}, "encoding": {"detail": {"field": "g"}, "order": {"value": null}}},
{"data": {"name": "lb"}, "transform": [{"filter": "datum.p == 4"}], "mark": {"type": "text", "fontSize": 8, "color": "#333333", "clip": true}, "encoding": {"text": {"field": "t"}}},
{"data": {"name": "mn"}, "transform": [{"filter": "datum.p == 4"}], "mark": {"type": "line", "strokeWidth": 2, "clip": true}, "encoding": {"order": {"value": null}, "color": {"field": "s", "type": "nominal", "scale": {"range": ["#0000ff"]}, "legend": {"title": null, "labelExpr": "['Conditional', 'Means']"}}}}
]}
]
}
]
}
